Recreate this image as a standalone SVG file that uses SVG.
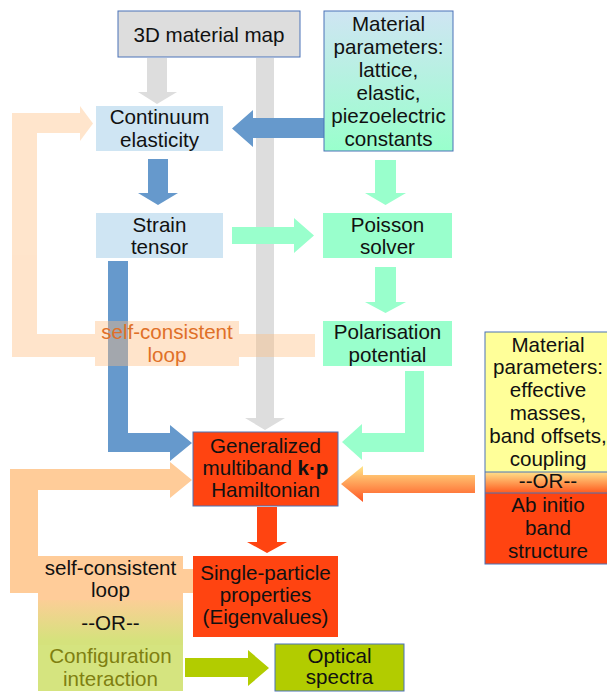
<svg xmlns="http://www.w3.org/2000/svg" width="607" height="693" viewBox="0 0 607 693">
<style>
text{font-family:"Liberation Sans",Arial,sans-serif;font-size:20.6px;fill:#111;text-anchor:middle}
.bd{stroke:#4a72b8;stroke-width:1}
.gray{fill:#dddddd}
.blue{fill:#6699cc}
.mint{fill:#99ffcc}
.red{fill:#ff4411}
.peach{fill:#ffcc99}
.lime{fill:#b2cc00}
</style>
<defs>
<linearGradient id="gMat" x1="0" y1="0" x2="0" y2="1"><stop offset="0" stop-color="#cfe5f3"/><stop offset="1" stop-color="#99ffcc"/></linearGradient>
<linearGradient id="gArr" x1="0" y1="0" x2="0" y2="1"><stop offset="0" stop-color="#ffe68a"/><stop offset="1" stop-color="#ff5522"/></linearGradient>
<linearGradient id="gOr" x1="0" y1="0" x2="0" y2="1"><stop offset="0" stop-color="#ffe08a"/><stop offset="1" stop-color="#ff5a1e"/></linearGradient>
<linearGradient id="gLoop" x1="0" y1="0" x2="0" y2="1"><stop offset="0.45" stop-color="#ffcc99"/><stop offset="0.95" stop-color="#d5e27c"/></linearGradient>
</defs>

<g id="connectors">
  <!-- gray -->
  <path class="gray" d="M147,58H167V92H177L157,104L138,92H147Z"/>
  <path class="gray" d="M256,58H274V418H285L265,430L245,418H256Z"/>
  <!-- blue -->
  <path class="blue" d="M324,118V138H253V147L232,128.5L253,110V118Z"/>
  <path class="blue" d="M148,159H168V193H178L158,205L138,193H148Z"/>
  <path class="blue" d="M108,261H128V433H170V425L192,443L170,461V452H108Z"/>
  <!-- mint -->
  <path class="mint" d="M375,160H396V193H406L385.5,205L365,193H375Z"/>
  <path class="mint" d="M232,227H294V218L314,235.5L294,253V244H232Z"/>
  <path class="mint" d="M375,267H396V302H406L385.5,313L365,302H375Z"/>
  <path class="mint" d="M405,371H424V452H362V460L342,442L362,424V433H405Z"/>
  <!-- orange gradient -->
  <path fill="url(#gArr)" d="M475,475V493H363V502L341,484L363,466V475Z"/>
  <!-- red -->
  <path class="red" d="M257,507H277V542H287L267,553L247,542H257Z"/>
  <!-- bottom loop -->
  <path class="peach" d="M193,569V593H10V469H170V462L192,480L170,498V490H38V569Z"/>
  <!-- lime -->
  <path class="lime" d="M185,658H248V650L269,668L248,686V677H185Z"/>
  <!-- top loop (translucent) -->
  <g id="loop-top" opacity="0.4" fill="#ffbe80">
    <path d="M315,334V357H12V113H80V106L93,123.5L80,141V133H37V334Z"/>
    <rect x="95" y="321" width="144" height="45"/>
  </g>
  <text x="167" y="339" style="fill:#e07028">self-consistent</text>
  <text x="167" y="362" style="fill:#e07028">loop</text>
</g>

<g id="map3d">
  <rect class="bd" x="118" y="11" width="182" height="46" fill="#dddddd"/>
  <text x="209" y="42">3D material map</text>
</g>

<g id="matparams1">
  <rect class="bd" x="324" y="11" width="129" height="140" fill="url(#gMat)"/>
  <text x="388.5" y="31">Material</text>
  <text x="388.5" y="54">parameters:</text>
  <text x="388.5" y="77">lattice,</text>
  <text x="388.5" y="100">elastic,</text>
  <text x="388.5" y="123">piezoelectric</text>
  <text x="388.5" y="146">constants</text>
</g>

<g id="continuum">
  <rect x="96" y="106" width="127" height="45" fill="#cfe5f3"/>
  <text x="159.5" y="124">Continuum</text>
  <text x="159.5" y="147">elasticity</text>
</g>

<g id="strain">
  <rect x="96" y="213" width="127" height="45" fill="#cfe5f3"/>
  <text x="159.5" y="232">Strain</text>
  <text x="159.5" y="254">tensor</text>
</g>

<g id="poisson">
  <rect x="323" y="213" width="129" height="45" fill="#99ffcc"/>
  <text x="387.5" y="232">Poisson</text>
  <text x="387.5" y="254">solver</text>
</g>

<g id="polarisation">
  <rect x="323" y="321" width="129" height="45" fill="#99ffcc"/>
  <text x="387.5" y="339">Polarisation</text>
  <text x="387.5" y="362">potential</text>
</g>

<g id="hamiltonian">
  <rect class="bd" x="193" y="432" width="145" height="74" fill="#ff4411"/>
  <text x="265.5" y="453">Generalized</text>
  <text x="265.5" y="475">multiband <tspan font-weight="bold">k·p</tspan></text>
  <text x="265.5" y="497">Hamiltonian</text>
</g>

<g id="matparams2">
  <rect x="485" y="332" width="126" height="140" fill="#ffff99"/>
  <rect x="485" y="472" width="126" height="21" fill="url(#gOr)"/>
  <rect x="485" y="493" width="126" height="71" fill="#ff4411"/>
  <rect class="bd" x="485" y="332" width="126" height="232" fill="none"/>
  <path class="bd" d="M485,472H611M485,493H611" fill="none"/>
  <text x="548" y="352">Material</text>
  <text x="548" y="374">parameters:</text>
  <text x="548" y="397">effective</text>
  <text x="548" y="420">masses,</text>
  <text x="548" y="443">band offsets,</text>
  <text x="548" y="466">coupling</text>
  <text x="548" y="488">--OR--</text>
  <text x="548" y="512">Ab initio</text>
  <text x="548" y="535">band</text>
  <text x="548" y="558">structure</text>
</g>

<g id="singleparticle">
  <rect x="193" y="556" width="145" height="81" fill="#ff4411"/>
  <text x="265.5" y="580">Single-particle</text>
  <text x="265.5" y="602">properties</text>
  <text x="265.5" y="624">(Eigenvalues)</text>
</g>

<g id="loop-bottom">
  <rect x="38" y="556" width="145" height="89" fill="url(#gLoop)"/>
  <rect x="10" y="569" width="183" height="24" fill="#ffcc99"/>
  <rect x="38" y="556" width="145" height="44" fill="#ffcc99"/>
  <text x="110.5" y="575">self-consistent</text>
  <text x="110.5" y="597">loop</text>
  <text x="110.5" y="630">--OR--</text>
</g>

<g id="config">
  <rect x="38" y="645" width="145" height="46" fill="#d5e47f"/>
  <text x="110.5" y="663" style="fill:#7f7f10">Configuration</text>
  <text x="110.5" y="686" style="fill:#7f7f10">interaction</text>
</g>

<g id="optical">
  <rect class="bd" x="275" y="644" width="129" height="47" fill="#b2cc00"/>
  <text x="339.5" y="663">Optical</text>
  <text x="339.5" y="684">spectra</text>
</g>
</svg>
